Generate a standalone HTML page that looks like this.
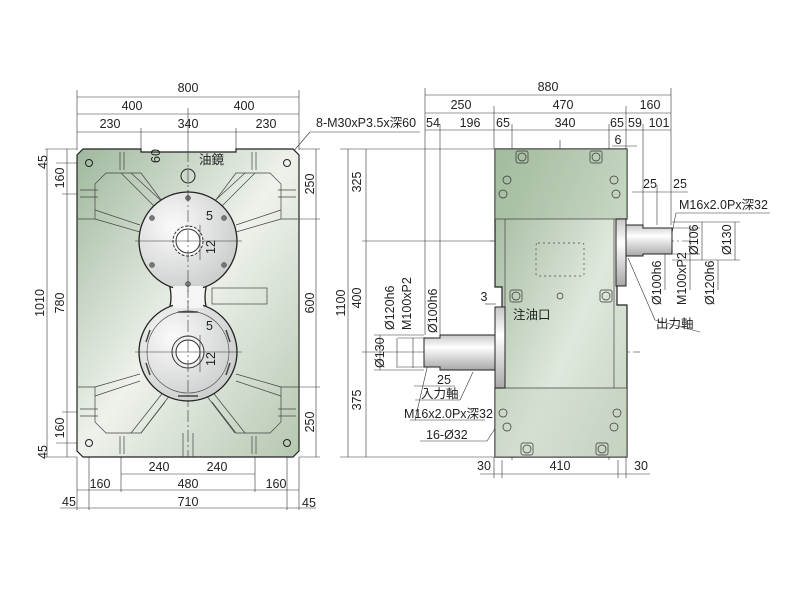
<!DOCTYPE html>
<html><head><meta charset="utf-8"><style>
html,body{margin:0;padding:0;background:#fff}
svg{display:block}
text{font-family:"Liberation Sans","Noto Sans CJK JP",sans-serif;font-size:12.5px;fill:#222}
</style></head><body>
<svg width="800" height="609" viewBox="0 0 800 609" xmlns="http://www.w3.org/2000/svg">
<defs>
<linearGradient id="g" x1="0" y1="0" x2="1" y2="1">
<stop offset="0" stop-color="#9fb89c"/><stop offset="0.5" stop-color="#eef2ec"/><stop offset="1" stop-color="#b5c7b0"/>
</linearGradient>
<linearGradient id="g2" x1="0" y1="0" x2="1" y2="1">
<stop offset="0" stop-color="#9cb598"/><stop offset="0.6" stop-color="#dfe8dc"/><stop offset="1" stop-color="#c3d2bf"/>
</linearGradient>
<radialGradient id="c" cx="0.35" cy="0.35" r="0.8">
<stop offset="0" stop-color="#fafafa"/><stop offset="1" stop-color="#c4c8c5"/>
</radialGradient>
<linearGradient id="sh" x1="0" y1="0" x2="0" y2="1">
<stop offset="0" stop-color="#c8c8c8"/><stop offset="0.35" stop-color="#ffffff"/><stop offset="1" stop-color="#a8a8a8"/>
</linearGradient>
</defs>

<g stroke="#333" stroke-width="0.6" fill="none">
<line x1="77" y1="97" x2="299" y2="97"/><line x1="77" y1="114" x2="299" y2="114"/><line x1="77" y1="132" x2="299" y2="132"/>
<line x1="77" y1="90" x2="77" y2="150"/><line x1="299" y1="90" x2="299" y2="150"/><line x1="188" y1="108" x2="188" y2="150"/>
<line x1="141" y1="128" x2="141" y2="152"/><line x1="236" y1="128" x2="236" y2="152"/>
<line x1="45" y1="149" x2="77" y2="149"/><line x1="45" y1="457" x2="77" y2="457"/>
<line x1="47" y1="149" x2="47" y2="457"/><line x1="67" y1="149" x2="67" y2="457"/>
<line x1="56" y1="163" x2="90" y2="163"/><line x1="62" y1="194" x2="90" y2="194"/>
<line x1="62" y1="412" x2="90" y2="412"/><line x1="56" y1="443" x2="90" y2="443"/>
<line x1="299" y1="149" x2="320" y2="149"/><line x1="299" y1="219" x2="320" y2="219"/><line x1="299" y1="387" x2="320" y2="387"/><line x1="299" y1="457" x2="320" y2="457"/>
<line x1="316" y1="149" x2="316" y2="457"/>
<line x1="77" y1="457" x2="77" y2="510"/><line x1="299" y1="457" x2="299" y2="510"/>
<line x1="89" y1="443" x2="89" y2="510"/><line x1="287" y1="443" x2="287" y2="510"/>
<line x1="121" y1="457" x2="121" y2="492"/><line x1="255" y1="457" x2="255" y2="492"/>
<line x1="121" y1="474" x2="255" y2="474"/><line x1="77" y1="490" x2="299" y2="490"/>
<line x1="60" y1="508" x2="316" y2="508"/>
<line x1="286" y1="160" x2="310" y2="132"/><line x1="310" y1="132" x2="420" y2="132"/>
<line x1="186" y1="168" x2="198" y2="160"/>

<line x1="425" y1="95" x2="671" y2="95"/><line x1="425" y1="113" x2="671" y2="113"/><line x1="425" y1="130" x2="671" y2="130"/>
<line x1="425" y1="88" x2="425" y2="335"/><line x1="440" y1="124" x2="440" y2="335"/>
<line x1="494" y1="106" x2="494" y2="149"/><line x1="512" y1="124" x2="512" y2="460"/>
<line x1="609" y1="124" x2="609" y2="460"/><line x1="626" y1="106" x2="626" y2="149"/>
<line x1="643" y1="124" x2="643" y2="225"/><line x1="671" y1="88" x2="671" y2="225"/>
<line x1="612" y1="146" x2="637" y2="146"/>
<line x1="340" y1="149" x2="494" y2="149"/><line x1="340" y1="457" x2="494" y2="457"/>
<line x1="348" y1="149" x2="348" y2="457"/><line x1="366" y1="149" x2="366" y2="457"/>
<line x1="362" y1="241" x2="494" y2="241"/><line x1="362" y1="352" x2="424" y2="352"/>
<line x1="490" y1="241" x2="690" y2="241" stroke-dasharray="8,3,2,3"/>
<line x1="425" y1="352" x2="640" y2="352" stroke-dasharray="8,3,2,3"/>
<line x1="560" y1="140" x2="560" y2="462" stroke-dasharray="12,3,2,3"/>
<line x1="494" y1="457" x2="494" y2="478"/><line x1="626" y1="457" x2="626" y2="478"/>
<line x1="480" y1="474" x2="650" y2="474"/><line x1="502" y1="460" x2="502" y2="478"/><line x1="618" y1="460" x2="618" y2="478"/>
<line x1="632" y1="192" x2="688" y2="192"/><line x1="657" y1="185" x2="657" y2="225"/>
<line x1="672" y1="222" x2="740" y2="222"/><line x1="672" y1="260" x2="740" y2="260"/>
<line x1="660" y1="228" x2="700" y2="228"/><line x1="660" y1="254" x2="700" y2="254"/>
<line x1="702" y1="222" x2="702" y2="260"/><line x1="735" y1="222" x2="735" y2="260"/>
<line x1="665" y1="228" x2="665" y2="290"/><line x1="690" y1="228" x2="690" y2="290"/><line x1="718" y1="260" x2="718" y2="290"/>
<line x1="669" y1="248" x2="676" y2="213"/><line x1="676" y1="213" x2="770" y2="213"/>
<line x1="628" y1="258" x2="655" y2="320"/><line x1="655" y1="320" x2="700" y2="332"/>
<line x1="374" y1="335" x2="424" y2="335"/><line x1="374" y1="370" x2="424" y2="370"/>
<line x1="380" y1="335" x2="380" y2="370"/><line x1="397" y1="338" x2="397" y2="368"/><line x1="413" y1="338" x2="413" y2="368"/>
<line x1="398" y1="338" x2="424" y2="338"/><line x1="398" y1="367" x2="424" y2="367"/>
<line x1="414" y1="386" x2="455" y2="386"/>
<line x1="485" y1="304" x2="496" y2="304"/>
<line x1="555" y1="315" x2="560" y2="297"/><line x1="510" y1="322" x2="555" y2="322"/>
<line x1="473" y1="372" x2="460" y2="400"/><line x1="415" y1="400" x2="460" y2="400"/>
<line x1="433" y1="342" x2="415" y2="420"/><line x1="410" y1="420" x2="485" y2="420"/>
<line x1="505" y1="413" x2="487" y2="441"/><line x1="420" y1="441" x2="487" y2="441"/>
</g>

<path d="M83 149 L141 149 L141 152 L236 152 L236 149 L293 149 L299 155 L299 451 L293 457 L83 457 L77 451 L77 155 Z" fill="url(#g)" stroke="#222" stroke-width="1.2"/>
<g stroke="#444" stroke-width="0.7" fill="none">
<path d="M78 219 L95 219 L95 184 L106 173 L141 173 L165 205"/>
<path d="M298 219 L281 219 L281 184 L270 173 L236 173 L212 205"/>
<path d="M78 387 L95 387 L95 422 L106 433 L141 433 L165 402"/>
<path d="M298 387 L281 387 L281 422 L270 433 L236 433 L212 402"/>
<path d="M121 173 L160 212 M131 173 L168 207"/>
<path d="M255 173 L216 212 M245 173 L208 207"/>
<path d="M95 210 L140 225 M95 219 L140 232"/><path d="M281 210 L236 225 M281 219 L236 232"/>
<path d="M95 396 L140 381 M95 387 L140 374"/><path d="M281 396 L236 381 M281 387 L236 374"/>
<path d="M131 433 L165 390 M141 433 L170 395"/><path d="M245 433 L211 390 M235 433 L206 395"/>
<line x1="188" y1="150" x2="188" y2="457" stroke-dasharray="12,3,2,3"/>
<line x1="183" y1="433" x2="183" y2="457"/><line x1="193" y1="433" x2="193" y2="457"/>
<path d="M120 152 v18 M124 152 v18 M252 152 v18 M256 152 v18 M120 436 v18 M124 436 v18 M252 436 v18 M256 436 v18"/>
<path d="M80 190 h18 M80 197 h18 M278 190 h18 M278 197 h18 M80 409 h18 M80 416 h18 M278 409 h18 M278 416 h18"/>
<rect x="212" y="288" width="55" height="16"/>
</g>
<path d="M166 276 Q176 297 166 318 L210 318 Q200 297 210 276 Z" fill="#f4f5f4" stroke="#222" stroke-width="1.3"/>
<circle cx="188" cy="241" r="49" fill="url(#c)" stroke="#222" stroke-width="1.3"/>
<circle cx="188" cy="352" r="49" fill="url(#c)" stroke="#222" stroke-width="1.3"/>
<rect x="173" y="286" width="30" height="22" fill="#f4f5f4"/>
<line x1="188" y1="286" x2="188" y2="308" stroke="#444" stroke-width="0.7" stroke-dasharray="12,3,2,3"/>
<circle cx="188" cy="352" r="41" fill="none" stroke="#555" stroke-width="0.7"/>
<g fill="#777" stroke="#333" stroke-width="0.5">
<circle cx="188" cy="198" r="2.5"/><circle cx="188" cy="284" r="2.5"/><circle cx="152" cy="218" r="2.5"/><circle cx="224" cy="218" r="2.5"/><circle cx="152" cy="265" r="2.5"/><circle cx="224" cy="265" r="2.5"/>
</g>
<g fill="none" stroke="#444" stroke-width="1.5">
<path d="M178 312 h20 M178 396 h20"/>
<path d="M150 330 l-4 12 M226 330 l4 12 M150 375 l-4 -12 M226 375 l4 -12"/>
</g>
<circle cx="188" cy="241" r="15" fill="#fff" stroke="#333" stroke-width="1" stroke-dasharray="3,1.5"/>
<circle cx="188" cy="241" r="12" fill="#fff" stroke="#333"/>
<circle cx="188" cy="352" r="16" fill="#eee" stroke="#333"/>
<circle cx="188" cy="352" r="12" fill="#fff" stroke="#333"/>
<circle cx="188" cy="176" r="7" fill="none" stroke="#222"/>
<circle cx="89" cy="163" r="3.5" fill="none" stroke="#222"/><circle cx="287" cy="163" r="3.5" fill="none" stroke="#222"/>
<circle cx="89" cy="443" r="3.5" fill="none" stroke="#222"/><circle cx="287" cy="443" r="3.5" fill="none" stroke="#222"/>
<g stroke="#333" stroke-width="0.6"><line x1="135" y1="241" x2="242" y2="241"/><line x1="135" y1="352" x2="242" y2="352"/>
<line x1="188" y1="190" x2="188" y2="292" stroke-dasharray="12,3,2,3"/><line x1="188" y1="300" x2="188" y2="405" stroke-dasharray="12,3,2,3"/>
<line x1="200" y1="225" x2="200" y2="260"/><line x1="200" y1="335" x2="200" y2="372"/></g>

<path d="M495 149 L627 149 L627 219 L617 219 L617 305 L627 305 L627 457 L495 457 L495 388 L502 388 L502 287 L495 287 Z" fill="url(#g2)" stroke="#222" stroke-width="1.2"/>
<path d="M495 149 L627 149 L627 219 L495 219 Z" fill="#a9c0a5" opacity="0.45"/>
<path d="M495 388 L627 388 L627 457 L495 457 Z" fill="#c5d3c1" opacity="0.4"/>
<g stroke="#444" stroke-width="0.7" fill="none">
<line x1="495" y1="219" x2="627" y2="219"/><line x1="495" y1="388" x2="627" y2="388"/>
<line x1="505" y1="219" x2="505" y2="388"/><line x1="614" y1="219" x2="614" y2="388"/>
<rect x="536" y="243" width="48" height="33" rx="2" stroke-dasharray="2,3"/>
</g>
<rect x="616" y="219" width="10" height="67" fill="url(#sh)" stroke="#222"/>
<path d="M626 225 L643 225 L643 228 L672 228 L672 254 L643 254 L643 256 L626 256 Z" fill="url(#sh)" stroke="#222"/>
<rect x="495" y="307" width="10" height="81" fill="url(#sh)" stroke="#222"/>
<path d="M424 338 L440 338 L440 335 L495 335 L495 370 L440 370 L440 367 L424 367 Z" fill="url(#sh)" stroke="#222"/>
<g fill="none" stroke="#333" stroke-width="0.7">
<rect x="516" y="151" width="12" height="12" rx="2"/><circle cx="522" cy="157" r="4"/>
<rect x="590" y="151" width="12" height="12" rx="2"/><circle cx="596" cy="157" r="4"/>
<rect x="510" y="290" width="12" height="12" rx="2"/><circle cx="516" cy="296" r="4"/>
<rect x="600" y="290" width="12" height="12" rx="2"/><circle cx="606" cy="296" r="4"/>
<rect x="521" y="443" width="12" height="12" rx="2"/><circle cx="527" cy="449" r="4"/>
<rect x="596" y="443" width="12" height="12" rx="2"/><circle cx="602" cy="449" r="4"/>
<circle cx="507" cy="180" r="4"/><circle cx="503" cy="194" r="4"/><circle cx="614" cy="180" r="4"/><circle cx="616" cy="194" r="4"/>
<circle cx="503" cy="413" r="4"/><circle cx="507" cy="427" r="4"/><circle cx="617" cy="413" r="4"/><circle cx="614" cy="427" r="4"/>
<circle cx="560" cy="296" r="3"/>
</g>

<text x="188" y="92" text-anchor="middle">800</text>
<text x="132" y="110" text-anchor="middle">400</text><text x="244" y="110" text-anchor="middle">400</text>
<text x="110" y="128" text-anchor="middle">230</text><text x="188" y="128" text-anchor="middle">340</text><text x="266" y="128" text-anchor="middle">230</text>
<text x="316" y="127">8-M30xP3.5x深60</text>
<text x="199" y="164">油鏡</text>
<text x="206" y="220">5</text><text x="206" y="330">5</text>
<text transform="translate(215,254) rotate(-90)">12</text><text transform="translate(215,366) rotate(-90)">12</text>
<text transform="translate(160,163) rotate(-90)" font-size="11">60</text>
<text transform="translate(47,162) rotate(-90)" text-anchor="middle">45</text>
<text transform="translate(64,178) rotate(-90)" text-anchor="middle">160</text>
<text transform="translate(44,303) rotate(-90)" text-anchor="middle">1010</text>
<text transform="translate(64,303) rotate(-90)" text-anchor="middle">780</text>
<text transform="translate(64,428) rotate(-90)" text-anchor="middle">160</text>
<text transform="translate(47,452) rotate(-90)" text-anchor="middle">45</text>
<text transform="translate(314,184) rotate(-90)" text-anchor="middle">250</text>
<text transform="translate(314,303) rotate(-90)" text-anchor="middle">600</text>
<text transform="translate(314,422) rotate(-90)" text-anchor="middle">250</text>
<text x="159" y="471" text-anchor="middle">240</text><text x="217" y="471" text-anchor="middle">240</text>
<text x="100" y="488" text-anchor="middle">160</text><text x="188" y="488" text-anchor="middle">480</text><text x="276" y="488" text-anchor="middle">160</text>
<text x="69" y="506" text-anchor="middle">45</text><text x="188" y="506" text-anchor="middle">710</text><text x="309" y="507" text-anchor="middle">45</text>

<text x="548" y="91" text-anchor="middle">880</text>
<text x="461" y="109" text-anchor="middle">250</text><text x="563" y="109" text-anchor="middle">470</text><text x="650" y="109" text-anchor="middle">160</text>
<text x="433" y="127" text-anchor="middle">54</text><text x="470" y="127" text-anchor="middle">196</text><text x="503" y="127" text-anchor="middle">65</text>
<text x="565" y="127" text-anchor="middle">340</text><text x="617" y="127" text-anchor="middle">65</text><text x="635" y="127" text-anchor="middle">59</text><text x="659" y="127" text-anchor="middle">101</text>
<text x="618" y="144" text-anchor="middle">6</text>
<text transform="translate(361,182) rotate(-90)" text-anchor="middle">325</text>
<text transform="translate(345,303) rotate(-90)" text-anchor="middle">1100</text>
<text transform="translate(361,298) rotate(-90)" text-anchor="middle">400</text>
<text transform="translate(361,400) rotate(-90)" text-anchor="middle">375</text>
<text x="650" y="188" text-anchor="middle">25</text><text x="680" y="188" text-anchor="middle">25</text>
<text x="679" y="209">M16x2.0Px深32</text>
<text transform="translate(698,255) rotate(-90)">Ø106</text>
<text transform="translate(731,255) rotate(-90)">Ø130</text>
<text transform="translate(661,305) rotate(-90)">Ø100h6</text>
<text transform="translate(686,305) rotate(-90)">M100xP2</text>
<text transform="translate(714,305) rotate(-90)">Ø120h6</text>
<text x="656" y="328">出力軸</text>
<text x="484" y="301" text-anchor="middle">3</text>
<text x="513" y="319">注油口</text>
<text transform="translate(394,330) rotate(-90)">Ø120h6</text>
<text transform="translate(411,330) rotate(-90)">M100xP2</text>
<text transform="translate(437,333) rotate(-90)">Ø100h6</text>
<text transform="translate(384,368) rotate(-90)">Ø130</text>
<text x="444" y="384" text-anchor="middle">25</text>
<text x="421" y="398">入力軸</text>
<text x="404" y="418">M16x2.0Px深32</text>
<text x="426" y="439">16-Ø32</text>
<text x="484" y="470" text-anchor="middle">30</text><text x="560" y="470" text-anchor="middle">410</text><text x="641" y="470" text-anchor="middle">30</text>
</svg>
</body></html>
